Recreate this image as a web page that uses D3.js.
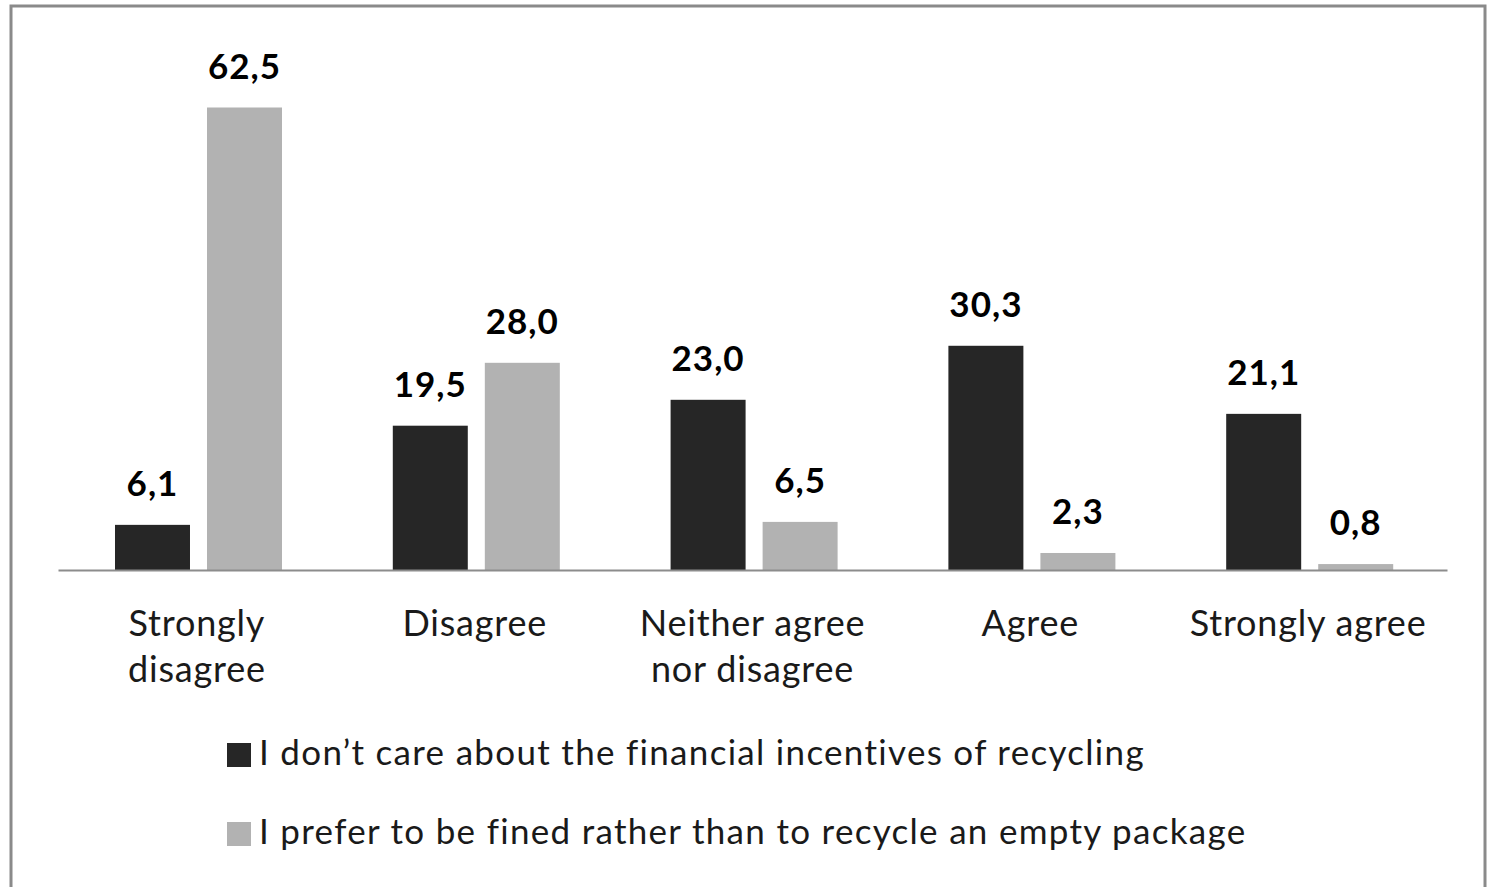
<!DOCTYPE html>
<html>
<head>
<meta charset="utf-8">
<script src="https://cdn.jsdelivr.net/npm/d3@7"></script>
<style>
  html, body { margin: 0; padding: 0; background: #fff; }
  svg { display: block; }
</style>
</head>
<body>
<svg id="chart" width="1488" height="887"></svg>
<script>
// Survey answers (percent of respondents)
const categories = [["Strongly", "disagree"], ["Disagree"], ["Neither agree", "nor disagree"], ["Agree"], ["Strongly agree"]];
const seriesNames = [
  "I don\u2019t care about the financial incentives of recycling",
  "I prefer to be fined rather than to recycle an empty package"
];
const careValues = [6.1, 19.5, 23.0, 30.3, 21.1];
const finedValues = [62.5, 28.0, 6.5, 2.3, 0.8];
const seriesColors = ["#262626", "#b2b2b2"];

const svg = d3.select("#chart");
const FONT = "Lato, 'Open Sans', sans-serif";

// Outer frame
svg.append("rect")
  .attr("x", 11).attr("y", 6)
  .attr("width", 1474).attr("height", 900)
  .attr("fill", "#fff")
  .attr("stroke", "#8a8a8a").attr("stroke-width", 3);

const plot = { left: 58, right: 1447, top: 52, bottom: 570 };

const catIdx = d3.range(categories.length);
const x0 = d3.scaleBand().domain(catIdx).range([plot.left, plot.right]).padding(0);
const x1 = d3.scaleBand().domain([0, 1]).range([1.6, x0.bandwidth() + 1.6])
  .paddingInner(0.185).paddingOuter(0.602);
const y = d3.scaleLinear().domain([0, 70]).range([plot.bottom, plot.top]);

const series = [careValues, finedValues];
const rows = [];
series.forEach((vals, s) => vals.forEach((v, i) => rows.push({ s, i, v })));

const fmt = v => d3.format(".1f")(v).replace(".", ",");

// Bars
svg.append("g").selectAll("rect").data(rows).join("rect")
  .attr("x", d => x0(d.i) + x1(d.s))
  .attr("y", d => y(d.v))
  .attr("width", x1.bandwidth())
  .attr("height", d => y(0) - y(d.v))
  .attr("fill", d => seriesColors[d.s]);

// Value labels
svg.append("g").selectAll("text").data(rows).join("text")
  .attr("x", d => x0(d.i) + x1(d.s) + x1.bandwidth() / 2)
  .attr("y", d => y(d.v) - 29)
  .attr("text-anchor", "middle")
  .attr("font-family", FONT)
  .attr("font-weight", "bold")
  .attr("font-size", 35)
  .attr("letter-spacing", 1)
  .attr("fill", "#000")
  .text(d => fmt(d.v));

// Category axis
const xAxis = d3.axisBottom(x0).tickSize(0).tickFormat(() => "");
const axisG = svg.append("g").attr("transform", `translate(0,${plot.bottom})`).call(xAxis);
axisG.select(".domain").attr("stroke", "#8c8c8c").attr("stroke-width", 2);

const labelG = svg.append("g");
catIdx.forEach(i => {
  const cx = x0(i) + x0.bandwidth() / 2;
  const t = labelG.append("text")
    .attr("x", cx)
    .attr("y", 636)
    .attr("text-anchor", "middle")
    .attr("font-family", FONT)
    .attr("font-size", 36)
    .attr("letter-spacing", 0.8)
    .attr("fill", "#1a1a1a");
  categories[i].forEach((line, k) => {
    t.append("tspan").attr("x", cx)
      .attr("dy", k === 0 ? 0 : 46).text(line);
  });
});

// Legend
const legend = svg.append("g");
seriesNames.forEach((name, s) => {
  const ly = 743 + s * 79;
  legend.append("rect")
    .attr("x", 227).attr("y", ly)
    .attr("width", 24).attr("height", 24)
    .attr("fill", seriesColors[s]);
  legend.append("text")
    .attr("x", 259).attr("y", ly + 22)
    .attr("font-family", FONT)
    .attr("font-size", 35)
    .attr("letter-spacing", 1.3)
    .attr("fill", "#1a1a1a")
    .text(name);
});
</script>
</body>
</html>
